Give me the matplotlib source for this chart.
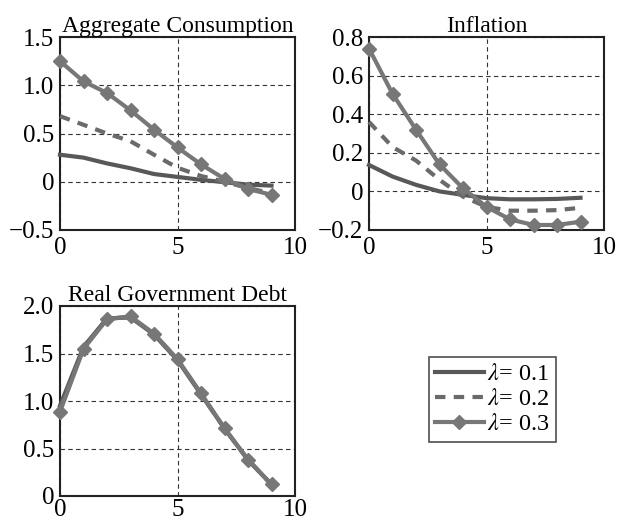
import matplotlib
matplotlib.use("Agg")
import matplotlib.pyplot as plt
import numpy as np

plt.rcParams['font.family'] = ['Liberation Serif', 'DejaVu Serif']
plt.rcParams['mathtext.fontset'] = 'stix'

periods = list(range(10))
labels = [r'$\lambda$= 0.1', r'$\lambda$= 0.2', r'$\lambda$= 0.3']

cons_01 = [0.28, 0.25, 0.19, 0.14, 0.08, 0.05, 0.02, -0.005, -0.03, -0.04]
cons_02 = [0.68, 0.59, 0.50, 0.42, 0.28, 0.145, 0.06, 0.0, -0.065, -0.12]
cons_03 = [1.25, 1.04, 0.92, 0.74, 0.54, 0.355, 0.18, 0.03, -0.075, -0.135]

infl_01 = [0.137, 0.077, 0.034, 0.0, -0.018, -0.035, -0.041, -0.041, -0.039, -0.033]
infl_02 = [0.36, 0.23, 0.16, 0.06, -0.027, -0.08, -0.10, -0.10, -0.097, -0.085]
infl_03 = [0.74, 0.506, 0.32, 0.14, 0.016, -0.08, -0.145, -0.174, -0.174, -0.157]

debt_01 = [0.95, 1.57, 1.87, 1.88, 1.70, 1.43, 1.07, 0.71, 0.38, 0.12]
debt_02 = [0.92, 1.56, 1.865, 1.885, 1.705, 1.435, 1.075, 0.71, 0.38, 0.12]
debt_03 = [0.887, 1.548, 1.86, 1.89, 1.71, 1.44, 1.08, 0.713, 0.383, 0.122]

fig = plt.figure(figsize=(6.18, 5.23), dpi=100)
W, H = 618, 523

def mk_ax(l, t, r, b):
    return fig.add_axes([l / W, 1 - b / H, (r - l) / W, (b - t) / H])

ax1 = mk_ax(60, 37, 295, 230)
ax2 = mk_ax(369, 37, 604, 230)
ax3 = mk_ax(60, 306, 295, 496)

styles = [
    dict(color='#585858', lw=3.0, ls='-'),
    dict(color='#6a6a6a', lw=3.0, ls=(0, (2.5, 2))),
    dict(color='#777777', lw=3.0, ls='-', marker='D', ms=7, mec='#777777', mfc='#777777'),
]

def draw(ax, series, title, ylim, yticks, yticklabels, xpad=5):
    for s, st, lab in zip(series, styles, labels):
        ax.plot(periods, s, label=lab, **st, clip_on=False, zorder=3)
    ax.set_xlim(0, 10)
    ax.set_ylim(*ylim)
    ax.set_xticks([0, 5, 10])
    ax.set_xticklabels(['0', '5', '10'])
    ax.set_yticks(yticks)
    ax.set_yticklabels(yticklabels)
    ax.tick_params(axis='x', length=0, labelsize=18, pad=xpad)
    ax.tick_params(axis='y', length=0, labelsize=18, pad=4)
    ax.grid(True, ls=(0, (4, 3)), color='#333333', lw=0.8)
    for sp in ax.spines.values():
        sp.set_linewidth(1.5)
        sp.set_color('#222222')
    ax.set_title(title, fontsize=17, pad=3)

draw(ax1, [cons_01, cons_02, cons_03], 'Aggregate Consumption', (-0.5, 1.5),
     [-0.5, 0, 0.5, 1.0, 1.5], ['\u22120.5', '0', '0.5', '1.0', '1.5'])
draw(ax2, [infl_01, infl_02, infl_03], 'Inflation', (-0.2, 0.8),
     [-0.2, 0, 0.2, 0.4, 0.6, 0.8], ['\u22120.2', '0', '0.2', '0.4', '0.6', '0.8'])
draw(ax3, [debt_01, debt_02, debt_03], 'Real Government Debt', (0, 2.0),
     [0, 0.5, 1.0, 1.5, 2.0], ['0', '0.5', '1.0', '1.5', '2.0'], xpad=2)

handles, labs = ax1.get_legend_handles_labels()
leg = fig.legend(handles, labs, loc='upper left',
                 bbox_to_anchor=(429 / W, 1 - 357 / H), fontsize=17.5,
                 frameon=True, fancybox=False, edgecolor='#222222',
                 handlelength=2.0, handletextpad=0.15, borderpad=0.25,
                 labelspacing=0.13, borderaxespad=0)
leg.get_frame().set_linewidth(1.2)

fig.savefig('out.png', dpi=100)
